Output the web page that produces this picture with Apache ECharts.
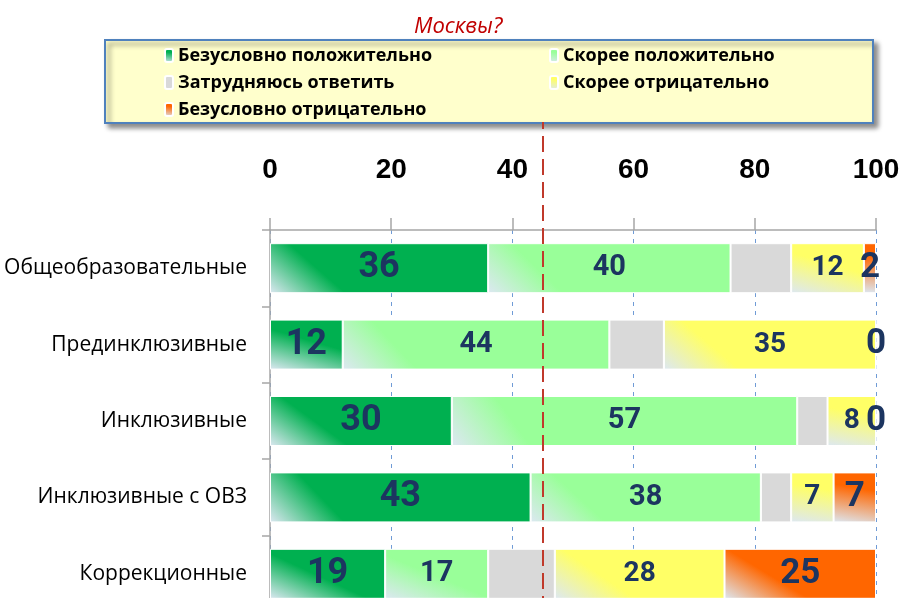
<!DOCTYPE html>
<html>
<head>
<meta charset="utf-8">
<script src="https://cdn.jsdelivr.net/npm/echarts@6/dist/echarts.min.js"></script>
<style>
  html, body { margin: 0; padding: 0; background: #fff; }
  #chart { width: 901px; height: 598px; }
</style>
</head>
<body>
<div id="chart"></div>
<script>
// school types (rows, top to bottom)
var categories = ['Общеобразовательные', 'Прединклюзивные', 'Инклюзивные', 'Инклюзивные с ОВЗ', 'Коррекционные'];

// answer shares, %
var definitelyPositive = [36, 12, 30, 43, 19];
var ratherPositive     = [40, 44, 57, 38, 17];
var hardToSay          = [10, 9, 5, 5, 11];
var ratherNegative     = [12, 35, 8, 7, 28];
var definitelyNegative = [2, 0, 0, 7, 25];

var seriesNames = ['Безусловно положительно', 'Скорее положительно', 'Затрудняюсь ответить', 'Скорее отрицательно', 'Безусловно отрицательно'];
var xTicks = [0, 20, 40, 60, 80, 100];
var refLine = 45;

var numFont = 'Roboto, "DejaVu Sans Condensed", sans-serif';
var txtFont = '"Open Sans", "Noto Sans", sans-serif';

function fill(main) {
    return new echarts.graphic.LinearGradient(0, 1, 0.2, 0, [
        {offset: 0, color: '#dde8f2'},
        {offset: 0.75, color: main},
        {offset: 1, color: main}
    ]);
}

function barSeries(name, values, color, labelSize) {
    return {
        name: name,
        type: 'bar',
        stack: 'all',
        barWidth: 50,
        data: values,
        itemStyle: {color: color, borderColor: '#fff', borderWidth: 1},
        label: {
            show: labelSize > 0,
            position: 'inside',
            color: '#1c3560',
            fontFamily: numFont,
            fontWeight: 'bold',
            fontSize: labelSize
        }
    };
}

function legendItem(name, w) {
    return {
        name: name,
        textStyle: {width: w, fontSize: 18, lineHeight: 19, color: '#000', fontWeight: 'bold', fontFamily: txtFont}
    };
}

var chart = echarts.init(document.getElementById('chart'));

var option = {
    animation: false,
    title: {
        text: 'Москвы?',
        left: 409,
        top: 11,
        textStyle: {color: '#c00000', fontStyle: 'italic', fontWeight: 'normal', fontSize: 22, fontFamily: txtFont}
    },
    legend: {
        left: 105,
        top: 40,
        width: 630,
        padding: [6, 90, 4, 59],
        itemWidth: 8,
        itemHeight: 13,
        itemGap: 8,
        backgroundColor: '#ffffcc',
        borderColor: '#4f81bd',
        borderWidth: 2,
        shadowBlur: 5,
        shadowColor: 'rgba(0,0,0,0.45)',
        shadowOffsetX: 4,
        shadowOffsetY: 4,
        textStyle: {fontSize: 18, lineHeight: 19, color: '#000', fontWeight: 'bold', fontFamily: txtFont},
        data: [
            legendItem(seriesNames[0], 363),
            legendItem(seriesNames[1], 220),
            legendItem(seriesNames[2], 363),
            legendItem(seriesNames[3], 220),
            legendItem(seriesNames[4], 363)
        ]
    },
    grid: [
        {left: 270, right: 25, top: 230, height: 382, containLabel: false, outerBoundsMode: 'none'},
        {left: 270, right: 25, top: 122, height: 490, containLabel: false, outerBoundsMode: 'none'}
    ],
    xAxis: [{
        type: 'value',
        position: 'top',
        min: xTicks[0],
        max: xTicks[xTicks.length - 1],
        interval: xTicks[1] - xTicks[0],
        axisLine: {show: true, lineStyle: {color: '#a6a6a6', width: 1.5}},
        axisTick: {show: true, length: 12, lineStyle: {color: '#a6a6a6', width: 1.5}},
        axisLabel: {margin: 46, color: '#000', fontSize: 28, fontWeight: 'bold', fontFamily: '"Liberation Sans", sans-serif'},
        splitLine: {show: true, lineStyle: {color: '#6f9bd6', type: [4, 5], width: 1}}
    }, {
        type: 'value',
        gridIndex: 1,
        min: 0,
        max: 100,
        show: false
    }],
    yAxis: [{
        type: 'category',
        data: categories,
        inverse: true,
        axisLine: {show: true, lineStyle: {color: '#a6a6a6', width: 1.5}},
        axisTick: {show: true, length: 8, lineStyle: {color: '#a6a6a6', width: 1.5}},
        axisLabel: {margin: 23, color: '#000', fontSize: 21, fontFamily: txtFont}
    }, {
        type: 'value',
        gridIndex: 1,
        show: false
    }],
    series: [
        barSeries(seriesNames[0], definitelyPositive, fill('#00b050'), 36),
        barSeries(seriesNames[1], ratherPositive, fill('#99ff99'), 29),
        barSeries(seriesNames[2], hardToSay, '#d9d9d9', 0),
        barSeries(seriesNames[3], ratherNegative, fill('#ffff66'), 28),
        barSeries(seriesNames[4], definitelyNegative, fill('#ff6600'), 35),
        {
            type: 'line',
            xAxisIndex: 1,
            yAxisIndex: 1,
            data: [],
            z: 10,
            markLine: {
                silent: true,
                symbol: 'none',
                label: {show: false},
                lineStyle: {color: '#c0392b', type: [16, 7], width: 2},
                data: [{xAxis: refLine}]
            }
        }
    ]
};
chart.setOption(option);
</script>
</body>
</html>
